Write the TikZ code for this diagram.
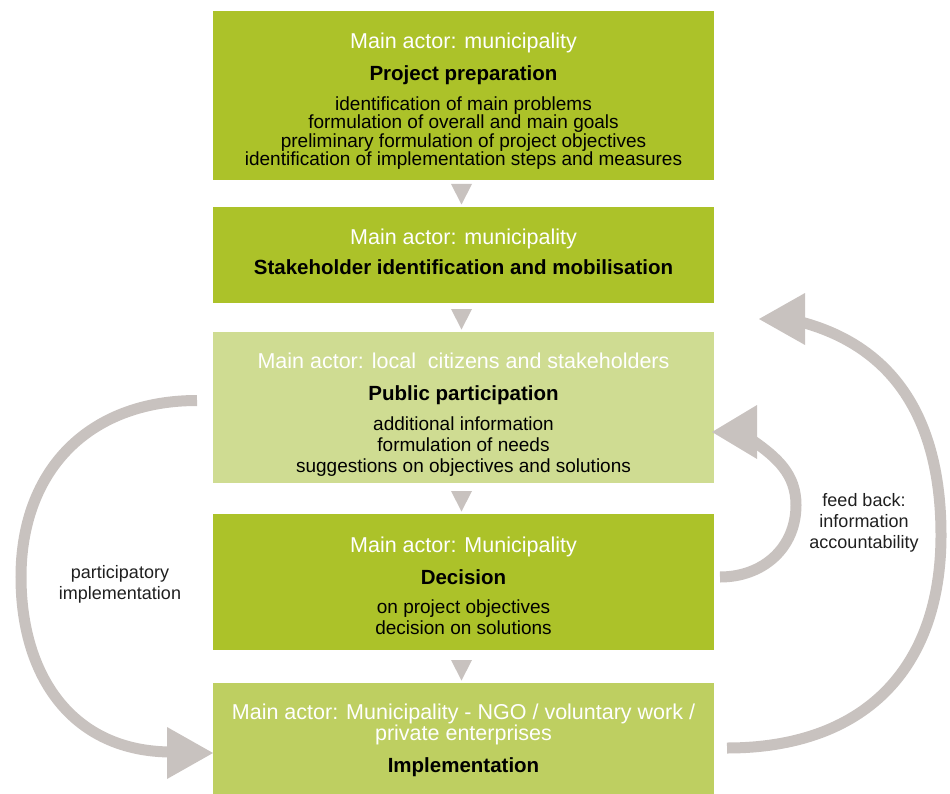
\documentclass[tikz,border=0pt]{standalone}
\usepackage{fontspec}
\setmainfont{Liberation Sans}
\usetikzlibrary{calc}
\definecolor{gdark}{RGB}{172,194,41}
\definecolor{glight}{RGB}{207,220,146}
\definecolor{gmid}{RGB}{190,207,97}
\definecolor{arrowgray}{RGB}{200,194,191}
\begin{document}
\begin{tikzpicture}[x=1pt,y=-1pt,
  box/.style={draw=none, inner sep=0pt, outer sep=0pt, minimum width=501pt},
  actor/.style={anchor=base, inner sep=0pt, text=white, font=\fontsize{21.5}{24}\selectfont},
  ttl/.style={anchor=base, inner sep=0pt, text=black, font=\fontsize{20.5}{24}\selectfont\bfseries},
  body/.style={anchor=base, inner sep=0pt, text=black, font=\fontsize{19}{22}\selectfont},
  lbl/.style={anchor=base, inner sep=0pt, text=black!88, font=\fontsize{18}{21}\selectfont},
  flow/.style={fill=arrowgray, draw=none},
  loopline/.style={draw=arrowgray, line width=11pt},
]
\useasboundingbox (0,0) rectangle (950,794);

% boxes
\node[box, fill=gdark,  minimum height=169pt] (b1) at (463.5,95.5) {};
\node[box, fill=gdark,  minimum height=96pt]  (b2) at (463.5,255) {};
\node[box, fill=glight, minimum height=151pt] (b3) at (463.5,407.5) {};
\node[box, fill=gdark,  minimum height=136pt] (b4) at (463.5,582) {};
\node[box, fill=gmid,   minimum height=111pt] (b5) at (463.5,738.5) {};

% box 1
\node[actor] (a1) at (463.5,49) {Main actor: municipality};
\node[ttl]   (t1) at (463.5,81) {Project preparation};
\node[body]  (p1a) at (463.5,110.5) {identification of main problems};
\node[body]  (p1b) at (463.5,128.8) {formulation of overall and main goals};
\node[body]  (p1c) at (463.5,147.1) {preliminary formulation of project objectives};
\node[body]  (p1d) at (463.5,165.4) {identification of implementation steps and measures};

% box 2
\node[actor] (a2) at (463.5,245) {Main actor: municipality};
\node[ttl]   (t2) at (463.5,275) {Stakeholder identification and mobilisation};

% box 3
\node[actor] (a3) at (463.5,368) {Main actor: local\ \ citizens and stakeholders};
\node[ttl]   (t3) at (463.5,400) {Public participation};
\node[body]  (p3a) at (463.5,430) {additional information};
\node[body]  (p3b) at (463.5,451) {formulation of needs};
\node[body]  (p3c) at (463.5,472) {suggestions on objectives and solutions};

% box 4
\node[actor] (a4) at (463.5,552) {Main actor: Municipality};
\node[ttl]   (t4) at (463.5,584) {Decision};
\node[body]  (p4a) at (463.5,613.5) {on project objectives};
\node[body]  (p4b) at (463.5,634.5) {decision on solutions};

% box 5
\node[actor] (a5a) at (463.5,719) {Main actor: Municipality - NGO / voluntary work /};
\node[actor] (a5b) at (463.5,740) {private enterprises};
\node[ttl]   (t5) at (463.5,772) {Implementation};

% down triangles between boxes
\foreach \u/\l in {b1/b2,b2/b3,b3/b4,b4/b5}{
  \fill[flow] ($(\l.north)+(-12.5,-23)$) -- ($(\l.north)+(8.5,-23)$) -- ($(\l.north)+(-2,-2.5)$) -- cycle;
}

% left loop: participatory implementation
\coordinate (L1) at (197,400.5);
\coordinate (L2) at (21,577);
\coordinate (L3) at (172,752);
\draw[loopline] (L1) to[out=180,in=90,looseness=1.1] (L2) to[out=-90,in=180,looseness=1.1] (L3);
\fill[flow] ($(b5.west)+(0,14.5)$) -- ($(b5.west)+(-46,-11.5)$) -- ($(b5.west)+(-46,40.5)$) -- cycle;
\node[lbl] (lp1) at (120,578.5) {participatory};
\node[lbl] (lp2) at (120,599.5) {implementation};

% inner right loop: decision -> public participation
\coordinate (I1) at (720,577);
\coordinate (I2) at (796,505);
\coordinate (I3) at (752,440);
\draw[loopline] (I1) to[out=0,in=-90,looseness=1.05] (I2) to[out=90,in=-35,looseness=1] (I3);
\fill[flow] (712,432) -- (757,405) -- (757,459) -- cycle;

% outer right loop: feed back
\coordinate (O1) at (727,748);
\coordinate (O2) at (941,535);
\coordinate (O3) at (801,322);
\draw[loopline] (O1) to[out=0,in=-90,looseness=1.15] (O2) to[out=90,in=-15,looseness=1.05] (O3);
\fill[flow] (759,319) -- (805,293) -- (805,345) -- cycle;
\node[lbl] (lf1) at (864,506) {feed back:};
\node[lbl] (lf2) at (864,527) {information};
\node[lbl] (lf3) at (864,548) {accountability};
\end{tikzpicture}
\end{document}
